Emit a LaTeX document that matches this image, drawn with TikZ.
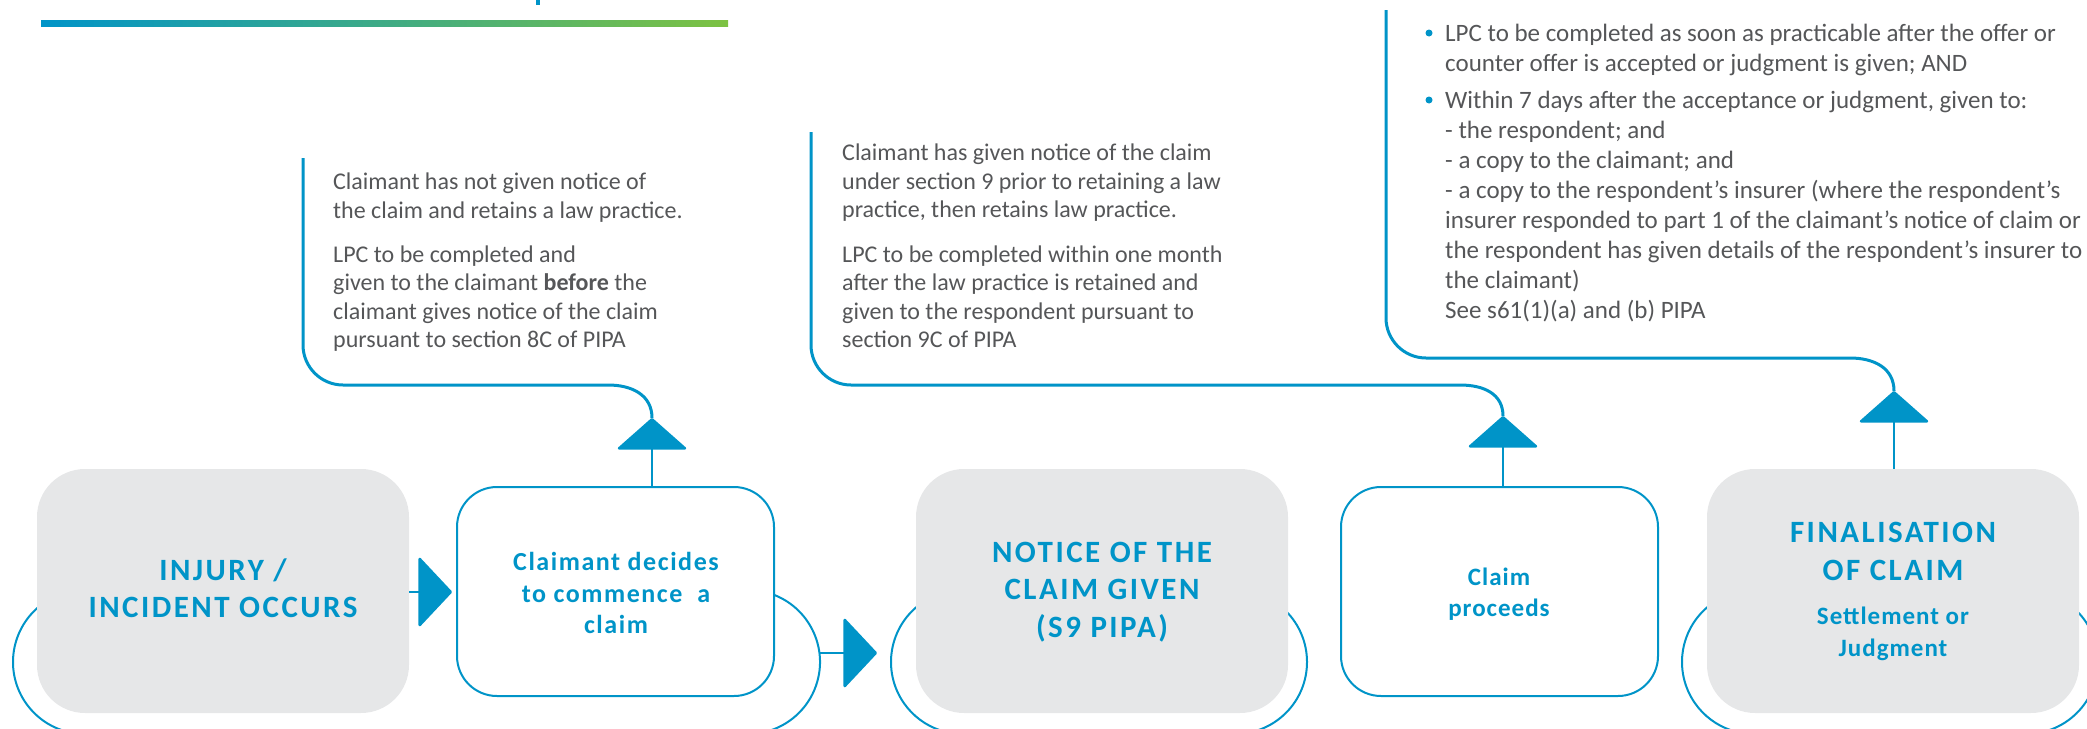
\documentclass[tikz,border=0pt]{standalone}
\usepackage{fontspec}
\setmainfont{Carlito}
\newfontfamily\capsfont[LetterSpace=8]{Carlito}
\newfontfamily\subfont[LetterSpace=4]{Carlito}
\newfontfamily\subwfont[LetterSpace=6]{Carlito}
\usetikzlibrary{arrows.meta}
\definecolor{cblue}{RGB}{0,148,200}
\definecolor{cgreen}{RGB}{125,194,66}
\definecolor{cgray}{RGB}{85,86,88}
\definecolor{boxgray}{RGB}{230,231,232}
\begin{document}
\begin{tikzpicture}[x=1pt,y=-1pt,
  graybox/.style={fill=boxgray, draw=none, rounded corners=48pt, minimum width=372pt, minimum height=244pt, inner sep=0pt},
  whitebox/.style={fill=white, draw=cblue, line width=2pt, rounded corners=40pt, minimum width=317pt, minimum height=209pt, inner sep=0pt},
  ring/.style={draw=cblue, line width=2pt},
  callout/.style={draw=cblue, line width=3pt},
  stemline/.style={draw=cblue, line width=2.5pt},
  bigtip/.style={-{Triangle[length=34pt,width=72pt,round]}, stemline},
  uptip/.style={-{Triangle[length=32pt,width=72pt,round]}, stemline},
  body/.style={text=cgray, font=\fontsize{24}{28.7}\selectfont, anchor=base west, inner sep=0pt},
  bodyb/.style={body, font=\fontsize{25}{30}\selectfont},
  caps/.style={text=cblue, font=\capsfont\bfseries\fontsize{31}{37}\selectfont, anchor=base, inner sep=0pt},
  sub/.style={text=cblue, font=\subfont\bfseries\fontsize{25}{32}\selectfont, anchor=base, inner sep=0pt},
  subw/.style={sub, font=\subwfont\bfseries\fontsize{26}{32}\selectfont},
  bulletdot/.style={circle, fill=cblue, inner sep=0pt, minimum size=7pt}
]
\useasboundingbox (0,0) rectangle (2087,728);
% header bar
\shade[left color=cblue, right color=cgreen] (41,20) rectangle (728,26);
\fill[cblue] (536,0) rectangle (540,5);

% decorative ring arcs behind boxes (outer sides only)
\draw[ring] ([shift={(126:72pt)}]85,662) arc[start angle=126, end angle=252, radius=72pt];
\draw[ring] ([shift={(74:72pt)}]748,662) arc[start angle=74, end angle=-72, radius=72pt];
\draw[ring] ([shift={(125:72pt)}]963,662) arc[start angle=125, end angle=252, radius=72pt];
\draw[ring] ([shift={(48:72pt)}]1235,662) arc[start angle=48, end angle=-72, radius=72pt];
\draw[ring] ([shift={(125:72pt)}]1754,662) arc[start angle=125, end angle=252, radius=72pt];
\draw[ring] ([shift={(48:72pt)}]2026,662) arc[start angle=48, end angle=-72, radius=72pt];

% boxes
\node[graybox] (box1) at (223,591) {};
\node[whitebox] (box2) at (615.5,591.5) {};
\node[graybox] (box3) at (1102,591) {};
\node[whitebox] (box4) at (1499.5,591.5) {};
\node[graybox] (box5) at (1893,591) {};

% box texts
\node[caps] (t1a) at (223,580) {INJURY /};
\node[caps] (t1b) at (223,617) {INCIDENT OCCURS};
\node[subw] (t2a) at (616,570) {Claimant decides};
\node[subw] (t2b) at (616,602) {to commence\ \ a};
\node[subw] (t2c) at (616,633) {claim};
\node[caps] (t3a) at (1102,562) {NOTICE OF THE};
\node[caps] (t3b) at (1102,599) {CLAIM GIVEN};
\node[caps] (t3c) at (1102,637) {(S9 PIPA)};
\node[sub] (t4a) at (1499,585) {Claim};
\node[sub] (t4b) at (1499,616) {proceeds};
\node[caps] (t5a) at (1893,542) {FINALISATION};
\node[caps] (t5b) at (1893,580) {OF CLAIM};
\node[sub] (t5c) at (1893,624) {Settlement or};
\node[sub] (t5d) at (1893,656) {Judgment};

% flow arrows
\coordinate (a1tip) at (452,592);
\draw[bigtip] (box1.east |- a1tip) -- (a1tip);
\coordinate (r2) at (820,653);
\coordinate (a2tip) at (877,653);
\draw[bigtip] (r2) -- (a2tip);

% callout apexes
\coordinate (c1apex) at (652,418);
\coordinate (c2apex) at (1503,416);
\coordinate (c3apex) at (1894,391);
\draw[uptip] (box2.north -| c1apex) -- (c1apex);
\draw[uptip] (box4.north -| c2apex) -- (c2apex);
\draw[uptip] (box5.north -| c3apex) -- (c3apex);

% callout lines
\coordinate (c1top) at (303,158);
\coordinate (c2top) at (811,132);
\coordinate (c3top) at (1386,10);
\draw[callout] (c1top) -- (303,345) .. controls (303,367) and (321,385) .. (343,385) -- (608,385) .. controls (632,385) and (652,395) .. (c1apex);
\draw[callout] (c2top) -- (811,345) .. controls (811,367) and (829,385) .. (851,385) -- (1460,385) .. controls (1484,385) and (1503,394) .. (c2apex);
\draw[callout] (c3top) -- (1386,318) .. controls (1386,340) and (1404,358) .. (1426,358) -- (1850,358) .. controls (1874,358) and (1894,368) .. (c3apex);

% callout 1 text
\node[body] (p1a) at (333,189) {Claimant has not given notice of};
\node[body] (p1b) at (333,218) {the claim and retains a law practice.};
\node[body] (p1c) at (333,262) {LPC to be completed and};
\node[body] (p1d) at (333,290) {given to the claimant \textbf{before} the};
\node[body] (p1e) at (333,319) {claimant gives notice of the claim};
\node[body] (p1f) at (333,347) {pursuant to section 8C of PIPA};

% callout 2 text
\node[body] (p2a) at (842,160) {Claimant has given notice of the claim};
\node[body] (p2b) at (842,189) {under section 9 prior to retaining a law};
\node[body] (p2c) at (842,217) {practice, then retains law practice.};
\node[body] (p2d) at (842,262) {LPC to be completed within one month};
\node[body] (p2e) at (842,290) {after the law practice is retained and};
\node[body] (p2f) at (842,319) {given to the respondent pursuant to};
\node[body] (p2g) at (842,347) {section 9C of PIPA};

% callout 3 text
\node[bulletdot] (d1) at (1429,33) {};
\node[bulletdot] (d2) at (1429,100) {};
\node[bodyb] (p3a) at (1445,41) {LPC to be completed as soon as practicable after the offer or};
\node[bodyb] (p3b) at (1445,71) {counter offer is accepted or judgment is given; AND};
\node[bodyb] (p3c) at (1445,108) {Within 7 days after the acceptance or judgment, given to:};
\node[bodyb] (p3d) at (1445,138) {- the respondent; and};
\node[bodyb] (p3e) at (1445,168) {- a copy to the claimant; and};
\node[bodyb] (p3f) at (1445,198) {- a copy to the respondent’s insurer (where the respondent’s};
\node[bodyb] (p3g) at (1445,228) {insurer responded to part 1 of the claimant’s notice of claim or};
\node[bodyb] (p3h) at (1445,258) {the respondent has given details of the respondent’s insurer to};
\node[bodyb] (p3i) at (1445,288) {the claimant)};
\node[bodyb] (p3j) at (1445,318) {See s61(1)(a) and (b) PIPA};
\end{tikzpicture}
\end{document}
